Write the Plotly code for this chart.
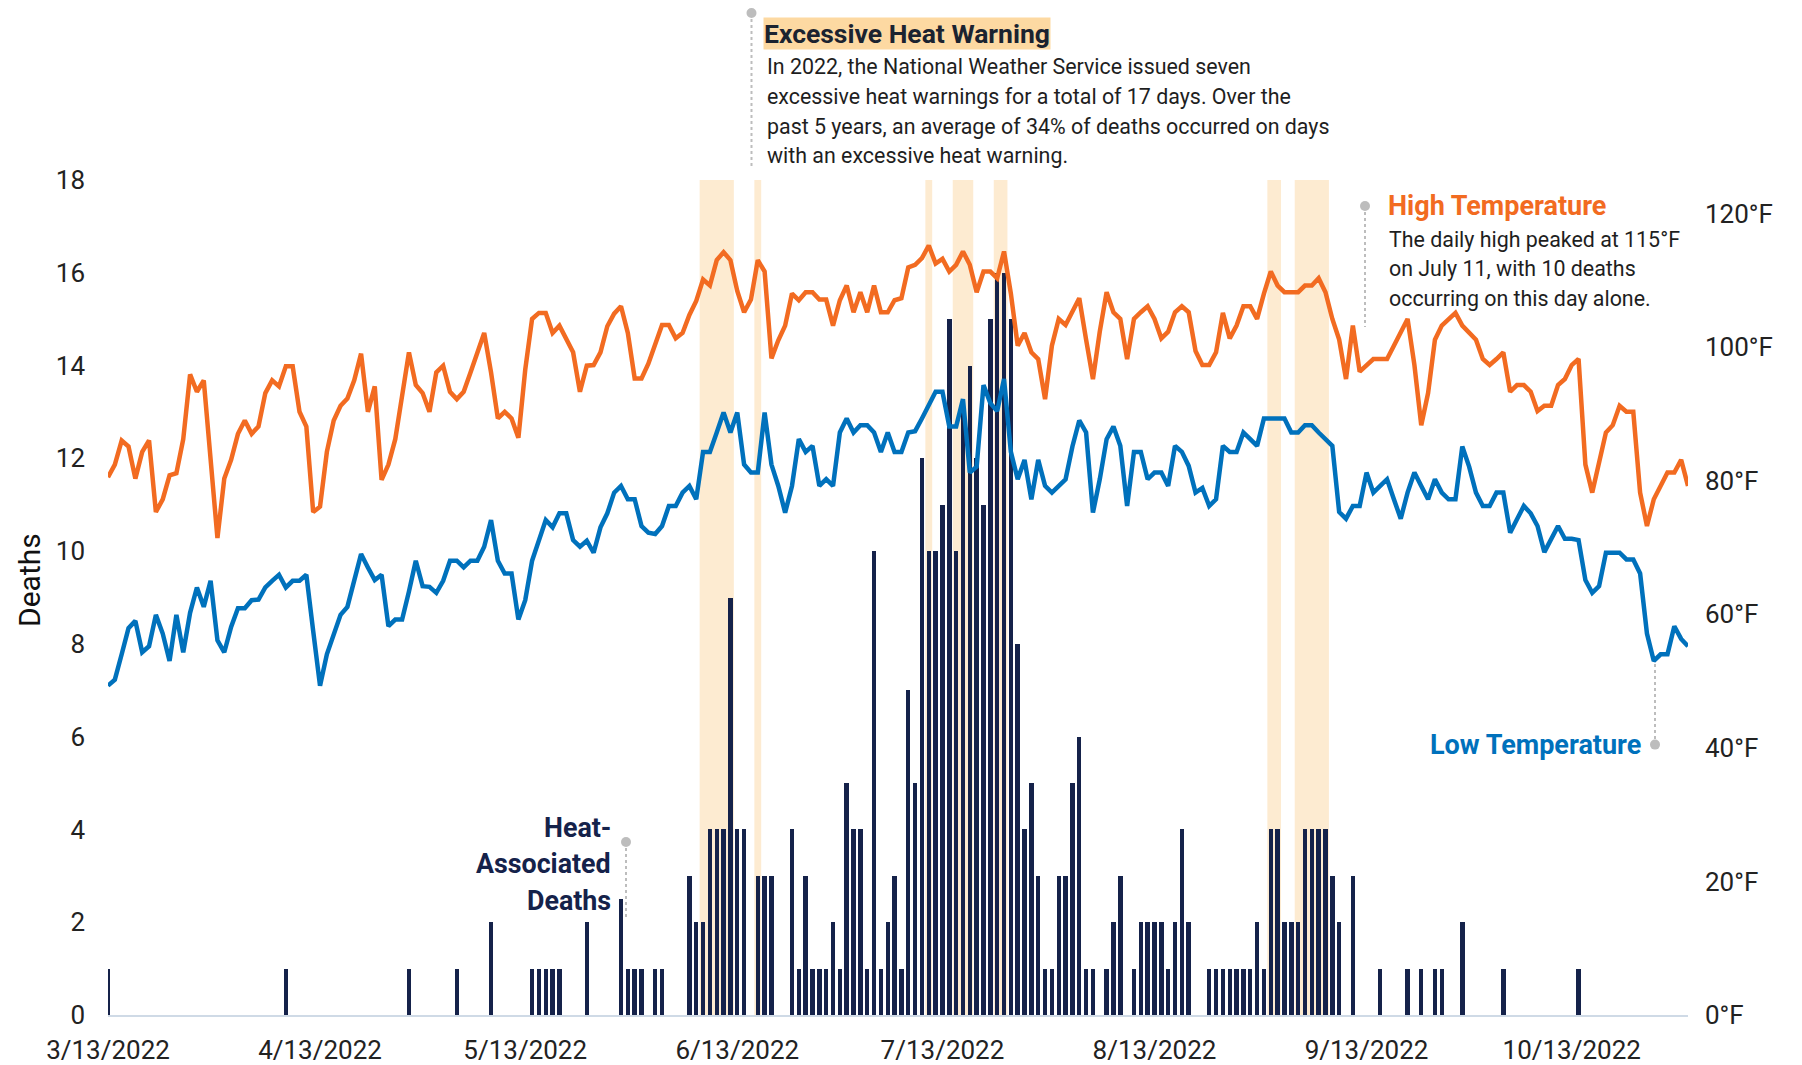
import plotly.graph_objects as go
import pandas as pd

# ---------------- data ----------------
START_DATE = "2022-03-13"

deaths = [
    1, 0, 0, 0, 0, 0, 0, 0, 0, 0, 0, 0, 0, 0, 0, 0, 0, 0, 0, 0,
    0, 0, 0, 0, 0, 0, 1, 0, 0, 0, 0, 0, 0, 0, 0, 0, 0, 0, 0, 0,
    0, 0, 0, 0, 1, 0, 0, 0, 0, 0, 0, 1, 0, 0, 0, 0, 2, 0, 0, 0,
    0, 0, 1, 1, 1, 1, 1, 0, 0, 0, 2, 0, 0, 0, 0, 2.5, 1, 1, 1, 0,
    1, 1, 0, 0, 0, 3, 2, 2, 4, 4, 4, 9, 4, 4, 0, 3, 3, 3, 0, 0,
    4, 1, 3, 1, 1, 1, 2, 1, 5, 4, 4, 1, 10, 1, 2, 3, 1, 7, 5, 12,
    10, 10, 11, 15, 10, 13, 14, 12, 11, 15, 16, 16, 15, 8, 4, 5, 3, 1, 1, 3,
    3, 5, 6, 1, 1, 0, 1, 2, 3, 0, 1, 2, 2, 2, 2, 1, 2, 4, 2, 0,
    0, 1, 1, 1, 1, 1, 1, 1, 2, 1, 4, 4, 2, 2, 2, 4, 4, 4, 4, 3,
    2, 0, 3, 0, 0, 0, 1, 0, 0, 0, 1, 0, 1, 0, 1, 1, 0, 0, 2, 0,
    0, 0, 0, 0, 1, 0, 0, 0, 0, 0, 0, 0, 0, 0, 0, 1, 0, 0, 0, 0,
    0, 0, 0, 0, 0, 0, 0, 0, 0, 0, 0, 0,
]

high_temp = [
    80.5, 82.4, 86.0, 85.1, 80.3, 84.3, 86.0, 75.3, 77.2, 80.8, 81.1, 86.2, 95.9, 93.3, 95.0, 83.1, 71.4, 80.3, 83.1, 87.0,
    89.0, 87.0, 88.1, 93.1, 95.0, 94.1, 97.1, 97.1, 90.3, 88.1, 75.3, 76.1, 84.3, 89.0, 91.2, 92.3, 95.0, 99.0, 90.3, 94.1,
    80.1, 82.4, 86.2, 92.7, 99.2, 94.3, 93.1, 90.3, 96.2, 97.2, 93.3, 92.2, 93.3, 96.2, 99.2, 102.1, 96.2, 89.3, 90.3, 89.3,
    86.4, 96.6, 104.2, 105.1, 105.1, 102.1, 103.2, 101.3, 99.2, 93.3, 97.2, 97.3, 99.2, 103.1, 105.0, 106.1, 102.1, 95.3, 95.3, 97.5,
    100.2, 103.3, 103.3, 101.3, 102.1, 104.8, 106.9, 110.1, 109.2, 113.0, 114.2, 113.0, 108.4, 105.2, 107.1, 113.0, 111.3, 98.3, 101.0, 103.2,
    108.0, 107.0, 108.2, 108.2, 107.1, 107.1, 103.2, 107.0, 109.2, 105.2, 108.2, 105.2, 109.2, 105.2, 105.2, 107.0, 107.3, 111.9, 112.3, 113.3,
    115.2, 112.5, 113.2, 111.3, 112.3, 114.3, 112.3, 108.2, 111.3, 111.3, 110.3, 114.3, 108.0, 100.2, 102.1, 99.2, 98.2, 92.2, 100.2, 104.2,
    103.3, 105.2, 107.3, 101.1, 95.2, 102.3, 108.2, 105.2, 104.2, 98.2, 104.2, 105.2, 106.1, 104.2, 101.3, 102.3, 105.2, 106.1, 105.2, 99.4,
    97.3, 97.3, 99.2, 105.1, 101.3, 103.2, 106.1, 106.1, 104.2, 108.0, 111.3, 109.2, 108.2, 108.2, 108.2, 109.2, 109.2, 110.3, 108.2, 104.2,
    101.1, 95.2, 103.2, 96.3, 97.3, 98.2, 98.2, 98.2, 100.2, 102.3, 104.2, 97.3, 88.3, 93.1, 101.1, 103.2, 104.2, 105.1, 103.2, 102.1,
    101.1, 98.2, 97.3, 98.2, 99.2, 93.3, 94.3, 94.3, 93.3, 90.4, 91.2, 91.2, 94.3, 95.2, 97.3, 98.2, 82.4, 78.2, 83.1, 87.2,
    88.3, 91.2, 90.3, 90.3, 78.2, 73.2, 77.2, 79.2, 81.2, 81.2, 83.1, 79.2,
]

low_temp = [
    49.3, 50.2, 54.0, 57.9, 59.0, 54.3, 55.2, 59.9, 57.1, 53.0, 59.9, 54.3, 60.2, 64.0, 61.1, 65.0, 56.1, 54.3, 58.1, 60.9,
    60.9, 62.1, 62.2, 64.0, 65.0, 65.9, 64.0, 65.0, 65.0, 65.9, 57.5, 49.3, 54.0, 56.9, 59.9, 61.1, 65.0, 69.0, 67.0, 65.1,
    65.9, 58.2, 59.2, 59.2, 63.4, 68.0, 64.2, 64.1, 63.2, 65.0, 68.0, 68.0, 67.0, 68.0, 68.0, 70.1, 74.1, 68.0, 66.1, 66.1,
    59.2, 62.1, 68.0, 71.1, 74.1, 73.0, 75.1, 75.1, 71.1, 70.1, 71.0, 69.2, 73.0, 75.1, 78.2, 79.2, 77.2, 77.2, 73.2, 72.2,
    72.0, 73.2, 76.2, 76.2, 78.2, 79.2, 77.2, 84.3, 84.3, 87.2, 90.2, 87.2, 90.2, 82.4, 81.2, 81.2, 90.2, 82.4, 79.2, 75.2,
    79.2, 86.2, 84.3, 85.2, 79.2, 80.2, 79.2, 87.2, 89.3, 87.2, 88.3, 88.3, 87.2, 84.3, 87.2, 84.3, 84.3, 87.2, 87.4, 89.3,
    91.2, 93.3, 93.3, 88.1, 88.1, 92.2, 81.2, 82.1, 94.3, 91.6, 90.4, 95.2, 84.3, 80.2, 83.1, 77.2, 83.1, 79.2, 78.2, 79.2,
    80.2, 85.1, 89.0, 87.2, 75.2, 80.2, 86.2, 88.1, 85.2, 76.2, 84.3, 84.3, 80.2, 81.2, 81.2, 79.2, 85.2, 84.3, 82.2, 78.2,
    78.9, 76.2, 77.2, 85.2, 84.3, 84.3, 87.2, 86.2, 85.2, 89.3, 89.3, 89.3, 89.3, 87.2, 87.2, 88.3, 88.3, 87.2, 86.2, 85.2,
    75.3, 74.3, 76.2, 76.2, 81.2, 78.2, 79.2, 80.2, 77.2, 74.3, 78.2, 81.2, 79.2, 77.2, 80.2, 78.2, 77.2, 77.2, 85.1, 82.1,
    78.2, 76.2, 76.2, 78.2, 78.2, 72.2, 74.2, 76.2, 75.1, 73.2, 69.3, 71.3, 73.2, 71.3, 71.3, 71.1, 65.1, 63.2, 64.2, 69.2,
    69.2, 69.2, 68.2, 68.2, 66.1, 57.1, 53.0, 54.0, 54.0, 58.2, 56.3, 55.2,
]

# excessive heat warning periods (first day, last day)
warn_start = ["2022-06-08", "2022-06-16", "2022-07-11", "2022-07-15", "2022-07-21", "2022-08-30", "2022-09-03"]
warn_end = ["2022-06-12", "2022-06-16", "2022-07-11", "2022-07-17", "2022-07-22", "2022-08-31", "2022-09-07"]

x_tick_dates = ["2022-03-13", "2022-04-13", "2022-05-13", "2022-06-13", "2022-07-13",
                "2022-08-13", "2022-09-13", "2022-10-13"]
x_tick_labels = ["3/13/2022", "4/13/2022", "5/13/2022", "6/13/2022", "7/13/2022",
                 "8/13/2022", "9/13/2022", "10/13/2022"]
death_ticks = [0, 2, 4, 6, 8, 10, 12, 14, 16, 18]
temp_ticks = [0, 20, 40, 60, 80, 100, 120]
temp_tick_labels = [f"{t}°F" for t in temp_ticks]

# ---------------- style ----------------
NAVY = "#15224A"
ORANGE = "#F26B21"
BLUE = "#0071BC"
BAND = "#FDEBD1"
GREY = "#BDBDBD"
TXT = "#1E1E1E"
FONT = "Roboto"

W, H = 1802, 1065
OFF = 8  # page offset of the plot div (body margin)
# desired plot box on screen
SL, ST, SR, SB = 108, 180, 1688, 1015
PW, PH = SR - SL, SB - ST


def px(x):
    return (x - SL) / PW


def py(y):
    return (SB - y) / PH


dates = pd.date_range(START_DATE, periods=len(deaths), freq="D")
DAY_MS = 86400000

fig = go.Figure()
fig.add_trace(go.Bar(x=dates, y=deaths, marker=dict(color=NAVY, line=dict(width=0)),
                     width=0.65 * DAY_MS, yaxis="y", name="Deaths"))
fig.add_trace(go.Scatter(x=dates, y=high_temp, mode="lines", yaxis="y2",
                         line=dict(color=ORANGE, width=4.5), name="High Temperature"))
fig.add_trace(go.Scatter(x=dates, y=low_temp, mode="lines", yaxis="y2",
                         line=dict(color=BLUE, width=4.5), name="Low Temperature"))

shapes = []
for s, e in zip(warn_start, warn_end):
    x0 = pd.Timestamp(s) - pd.Timedelta(hours=12)
    x1 = pd.Timestamp(e) + pd.Timedelta(hours=12)
    shapes.append(dict(type="rect", xref="x", yref="paper", x0=x0, x1=x1, y0=0, y1=1,
                       fillcolor=BAND, line=dict(width=0), layer="below"))


def leader(x, y_top, y_bot):
    shapes.append(dict(type="line", xref="paper", yref="paper", x0=px(x), x1=px(x),
                       y0=py(y_top), y1=py(y_bot), line=dict(color=GREY, width=2, dash="dot")))


def dot(x, y, r=5):
    shapes.append(dict(type="circle", xref="paper", yref="paper",
                       x0=px(x - r), x1=px(x + r), y0=py(y + r), y1=py(y - r),
                       fillcolor=GREY, line=dict(width=0)))


leader(751.5, 13, 167); dot(751.5, 13)
leader(1365, 206, 327); dot(1365, 206)
leader(1655, 664, 744); dot(1655, 744.6)
leader(626, 842, 917); dot(626, 842)

annotations = []


def text(x, y, s, size=21.4, color=TXT, bold=False, xanchor="left", **kw):
    if bold:
        s = f"<b>{s}</b>"
    annotations.append(dict(xref="paper", yref="paper", x=px(x), y=py(y), text=s,
                            showarrow=False, xanchor=xanchor, yanchor="middle",
                            font=dict(family=FONT, size=size, color=color), **kw))


# Excessive heat warning note
text(763, 33.5, "Excessive Heat Warning", size=26.5, color="#1B2330", bold=True,
     bgcolor="#FDD9A2", borderpad=0)
body = ["In 2022, the National Weather Service issued seven",
        "excessive heat warnings for a total of 17 days. Over the",
        "past 5 years, an average of 34% of deaths occurred on days",
        "with an excessive heat warning."]
for i, line in enumerate(body):
    text(765, 67 + i * 29.5, line)

# High temperature note
text(1386, 206.5, "High Temperature", size=27, color=ORANGE, bold=True)
hb = ["The daily high peaked at 115°F", "on July 11, with 10 deaths", "occurring on this day alone."]
for i, line in enumerate(hb):
    text(1387, 239.5 + i * 29.3, line)

# Low temperature label
text(1643, 744.5, "Low Temperature", size=27, color=BLUE, bold=True, xanchor="right")

# Heat-associated deaths label
for i, line in enumerate(["Heat-", "Associated", "Deaths"]):
    text(612.5, 827.5 + i * 36.5, line, size=26.8, color=NAVY, bold=True, xanchor="right")

# y-axis title
annotations.append(dict(xref="paper", yref="paper", x=px(29), y=py(580), text="Deaths",
                        showarrow=False, textangle=-90, xanchor="center", yanchor="middle",
                        font=dict(family=FONT, size=30, color="#111111")))

tickfont = dict(family=FONT, size=26, color="#222222")

fig.update_layout(
    width=W, height=H, autosize=False,
    margin=dict(l=SL - OFF, r=W - (SR - OFF), t=ST - OFF, b=H - (SB - OFF), pad=0),
    paper_bgcolor="white", plot_bgcolor="white",
    showlegend=False, bargap=0,
    font=dict(family=FONT),
    xaxis=dict(type="date", range=[dates[0], dates[-1]], tickvals=x_tick_dates,
               ticktext=x_tick_labels, showgrid=False, zeroline=False, showline=True,
               linecolor="#CFDAE6", linewidth=2, ticks="", tickfont=tickfont,
               ticklabelstandoff=11, automargin=False),
    yaxis=dict(range=[0, 18], tickvals=death_ticks, showgrid=False, zeroline=False,
               showline=False, ticks="", tickfont=tickfont, ticklabelstandoff=22,
               automargin=False),
    yaxis2=dict(range=[0, 125], tickvals=temp_ticks, ticktext=temp_tick_labels,
                overlaying="y", side="right", showgrid=False, zeroline=False,
                showline=False, ticks="", tickfont=tickfont, ticklabelstandoff=16,
                automargin=False),
    shapes=shapes, annotations=annotations,
)

fig.write_html("out.html")
